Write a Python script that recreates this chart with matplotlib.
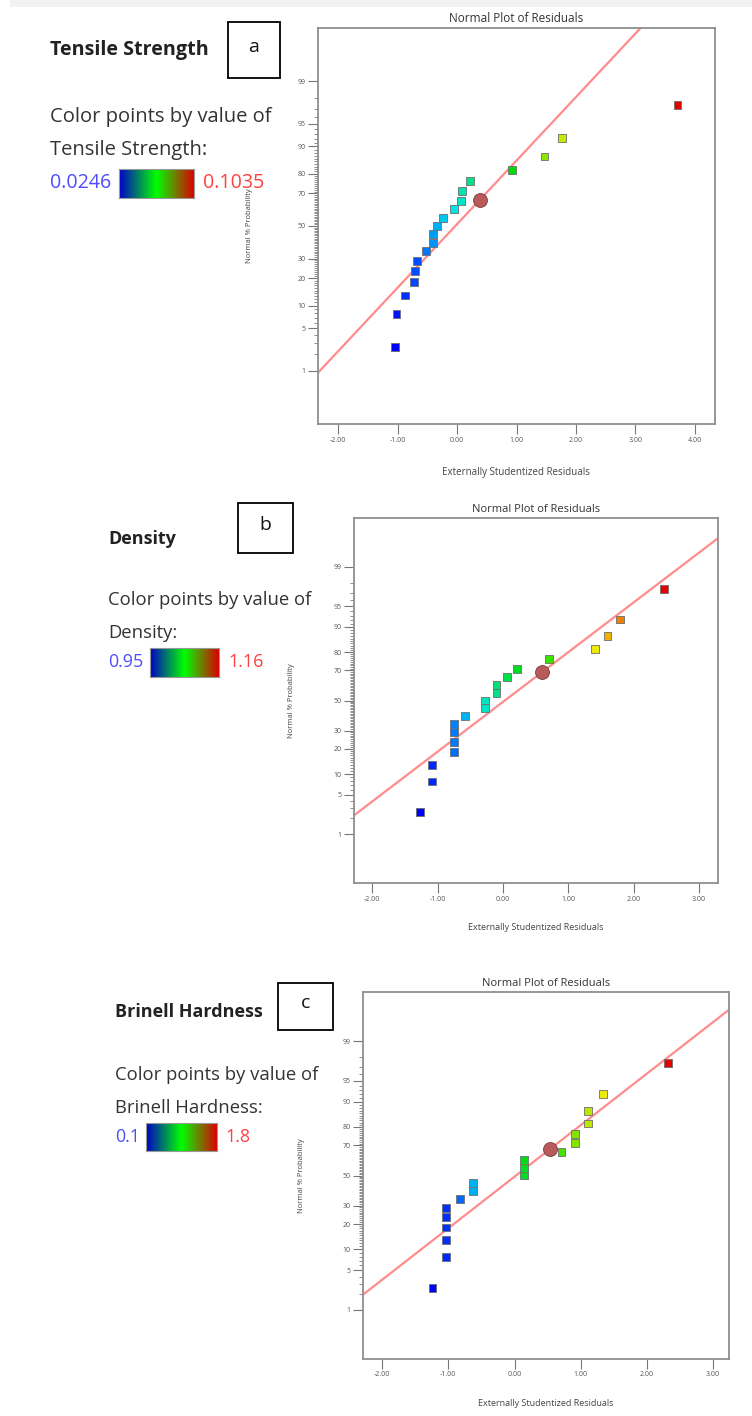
import math
import numpy as np
import matplotlib
matplotlib.use("Agg")
import matplotlib.pyplot as plt
from matplotlib.colors import LinearSegmentedColormap
from matplotlib.patches import Rectangle

plt.rcParams['font.family'] = ['Open Sans', 'DejaVu Sans']

W, H = 752, 1416

# Normal % probability of each run (same ranks in all three plots)
normal_pct = [2.6, 7.9, 13.2, 18.4, 23.7, 28.9, 34.2, 39.5, 44.7, 50.0,
              55.3, 60.5, 65.8, 71.1, 76.3, 81.6, 86.8, 92.1, 97.4]

# (a) Tensile Strength
resid_a = [-1.04, -1.02, -0.87, -0.72, -0.71, -0.68, -0.52, -0.40, -0.40, -0.34,
           -0.23, -0.05, 0.06, 0.08, 0.22, 0.92, 1.47, 1.76, 3.71]
value_a = [0.0246, 0.0266, 0.0293, 0.0317, 0.0325, 0.0325, 0.0364, 0.0396, 0.0404, 0.0427,
           0.0451, 0.0483, 0.0506, 0.0522, 0.0546, 0.0641, 0.0735, 0.0775, 0.1035]
center_a = (0.38, 66.2)
slope_a = 1.02

# (b) Density
resid_b = [-1.27, -1.09, -1.09, -0.75, -0.75, -0.75, -0.75, -0.58, -0.27, -0.27,
           -0.10, -0.10, 0.06, 0.22, 0.70, 1.41, 1.60, 1.79, 2.47]
value_b = [0.950, 0.961, 0.961, 0.979, 0.982, 0.982, 0.984, 0.998, 1.019, 1.021,
           1.030, 1.034, 1.042, 1.049, 1.066, 1.097, 1.116, 1.131, 1.160]
center_b = (0.60, 69.0)
slope_b = 0.867

# (c) Brinell Hardness
resid_c = [-1.24, -1.03, -1.03, -1.03, -1.03, -1.03, -0.83, -0.63, -0.63, 0.14,
           0.14, 0.14, 0.71, 0.91, 0.91, 1.11, 1.11, 1.33, 2.32]
value_c = [0.10, 0.19, 0.20, 0.20, 0.20, 0.20, 0.32, 0.49, 0.49, 0.90,
           0.90, 0.92, 1.05, 1.14, 1.14, 1.22, 1.22, 1.29, 1.80]
center_c = (0.54, 67.8)
slope_c = 0.893

prob_ticks = [1, 5, 10, 20, 30, 50, 70, 80, 90, 95, 99]


def norm_ppf(p):
    # inverse normal cdf by bisection (no scipy here)
    p = np.atleast_1d(np.asarray(p, dtype=float))
    lo = np.full(p.shape, -8.0)
    hi = np.full(p.shape, 8.0)
    cdf = np.vectorize(lambda z: 0.5 * (1 + math.erf(z / math.sqrt(2))))
    for _ in range(60):
        mid = (lo + hi) / 2
        below = cdf(mid) < p
        lo = np.where(below, mid, lo)
        hi = np.where(below, hi, mid)
    return (lo + hi) / 2


point_cmap = LinearSegmentedColormap.from_list("pts", [
    (0.0, "#0000ff"), (0.15, "#0078ff"), (0.3, "#00e6e6"), (0.5, "#00dc00"),
    (0.7, "#ebeb00"), (0.85, "#f08c00"), (1.0, "#e60000")])
legend_cmap = LinearSegmentedColormap.from_list("leg", ["#0000c8", "#00ff00", "#dc0000"])

fig = plt.figure(figsize=(W / 100, H / 100), dpi=100)
fig.patches.append(Rectangle((10 / W, 1 - 7 / H), 1, 7 / H, transform=fig.transFigure,
                             facecolor="#f2f2f2", edgecolor="none"))


def box(l, t, r, b):
    return [l / W, 1 - b / H, (r - l) / W, (b - t) / H]


def ftext(x, y, s, **kw):
    fig.text(x / W, 1 - y / H, s, **kw)


def residual_panel(rect, xlim, xticks, resid, values, center, slope, title_fs, ylab_x, xpad):
    ax = fig.add_axes(rect)
    z = norm_ppf(np.array(normal_pct) / 100)
    vmin, vmax = min(values), max(values)
    cols = point_cmap((np.array(values) - vmin) / (vmax - vmin))

    zc = norm_ppf(center[1] / 100)[0]
    xs = np.array(xlim)
    ax.plot(xs, zc + slope * (xs - center[0]), color="#ff8c8c", lw=1.6, zorder=2)
    ax.scatter(resid, z, s=32, marker="s", c=cols, edgecolors="#6e6e6e",
               linewidths=0.6, zorder=3)
    ax.scatter([center[0]], [zc], s=100, color="#b85a5a", edgecolors="#7a3b3b",
               linewidths=0.6, zorder=4)

    ax.set_xlim(xlim)
    ax.set_ylim(-3.18, 3.18)
    ax.set_xticks(xticks)
    ax.set_xticklabels([f"{v:.2f}" for v in xticks])
    ax.set_yticks(norm_ppf(np.array(prob_ticks) / 100))
    ax.set_yticklabels([str(v) for v in prob_ticks])
    minor = [v for v in range(2, 99) if v not in prob_ticks]
    ax.set_yticks(norm_ppf(np.array(minor) / 100), minor=True)
    ax.tick_params(axis="both", which="major", direction="out", length=7, width=0.8,
                   colors="#777777", labelsize=5, labelcolor="#555555", pad=2)
    ax.tick_params(axis="y", which="minor", direction="out", length=2.8, width=0.6,
                   colors="#7a7a7a")
    for sp in ax.spines.values():
        sp.set_color("#8f8f8f")
        sp.set_linewidth(1.3)

    ax.set_title("Normal Plot of Residuals", fontsize=title_fs, color="#333333", pad=4)
    ax.set_xlabel("Externally Studentized Residuals", fontsize=title_fs - 1.5,
                  color="#444444", labelpad=xpad)
    ax.set_ylabel("Normal % Probability", fontsize=5.5, color="#444444")
    ax.yaxis.set_label_coords(ylab_x, 0.5)
    return ax


def side_legend(x, y_title, title, letter, letter_box, y_line1, y_line2, name,
                bar, lo_text, hi_text, lo_x, hi_x, y_vals, fs):
    ftext(x, y_title, title, fontsize=fs - 0.3, fontweight="bold", color="#222222",
          va="center")
    l, t, r, b = letter_box
    fig.patches.append(Rectangle((l / W, 1 - b / H), (r - l) / W, (b - t) / H,
                                 transform=fig.transFigure, facecolor="white",
                                 edgecolor="black", lw=1.3))
    ftext((l + r) / 2, (t + b) / 2 - 3, letter, fontsize=14, ha="center", va="center",
          color="#111111")
    ftext(x, y_line1, "Color points by value of", fontsize=fs, color="#333333", va="center")
    ftext(x, y_line2, name + ":", fontsize=fs, color="#333333", va="center")
    cax = fig.add_axes(box(*bar))
    cax.imshow(np.linspace(0, 1, 256)[None, :], cmap=legend_cmap, aspect="auto")
    cax.set_xticks([])
    cax.set_yticks([])
    for sp in cax.spines.values():
        sp.set_color("#999999")
        sp.set_linewidth(0.8)
    ftext(lo_x, y_vals, lo_text, fontsize=fs - 0.4, color="#4d4dff", va="center")
    ftext(hi_x, y_vals, hi_text, fontsize=fs - 0.4, color="#ff4040", va="center")


residual_panel(box(318, 28, 715, 424), (-2.34, 4.34), list(range(-2, 5)),
               resid_a, value_a, center_a, slope_a, 8.5, -0.164, 17)
residual_panel(box(354, 518, 718, 883), (-2.28, 3.29), list(range(-2, 4)),
               resid_b, value_b, center_b, slope_b, 8, -0.162, 15)
residual_panel(box(363, 992, 729, 1359), (-2.29, 3.24), list(range(-2, 4)),
               resid_c, value_c, center_c, slope_c, 8, -0.158, 15)

side_legend(50, 50, "Tensile Strength", "a", (228, 22, 280, 78), 117, 150,
            "Tensile Strength", (119, 169, 194, 198), "0.0246", "0.1035", 50, 203, 183,
            14.5)
side_legend(108, 539, "Density", "b", (238, 503, 293, 553), 600, 633,
            "Density", (150, 648, 219, 677), "0.95", "1.16", 108, 228, 662, 13.3)
side_legend(115, 1012, "Brinell Hardness", "c", (278, 983, 333, 1030), 1075, 1108,
            "Brinell Hardness", (146, 1123, 217, 1151), "0.1", "1.8", 115, 225, 1137, 13.3)

fig.savefig("out.png", dpi=100)
